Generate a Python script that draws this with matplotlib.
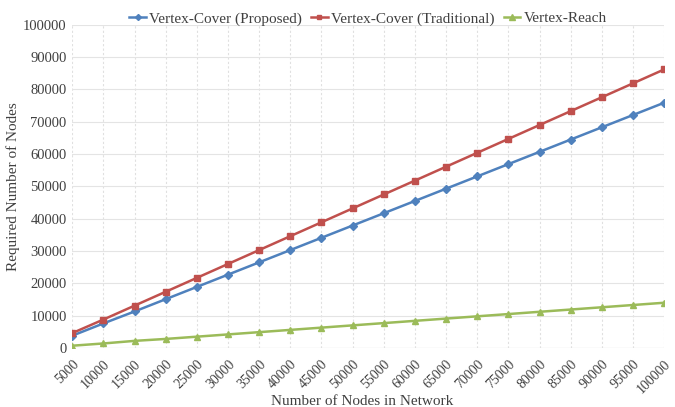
import matplotlib
matplotlib.use("Agg")
import matplotlib.pyplot as plt

plt.rcParams['font.family'] = ['Liberation Serif', 'DejaVu Serif']

nodes = [5000, 10000, 15000, 20000, 25000, 30000, 35000, 40000, 45000, 50000,
         55000, 60000, 65000, 70000, 75000, 80000, 85000, 90000, 95000, 100000]
proposed = [3800, 7600, 11300, 15100, 18900, 22700, 26500, 30300, 34100, 37900,
            41700, 45500, 49300, 53100, 56900, 60700, 64500, 68300, 72100, 75900]
traditional = [4600, 8800, 13100, 17400, 21700, 26000, 30300, 34600, 38900, 43200,
               47500, 51800, 56100, 60400, 64700, 69000, 73300, 77600, 81900, 86200]
reach = [700, 1400, 2200, 2800, 3500, 4200, 4900, 5600, 6300, 7000,
         7700, 8400, 9100, 9800, 10500, 11200, 11900, 12600, 13300, 14000]

txt = '#404040'

fig = plt.figure(figsize=(6.75, 4.07), dpi=100)
ax = fig.add_axes([0.107, 0.145, 0.877, 0.794])

ax.plot(nodes, proposed, color='#4f81bd', marker='D', markersize=3.8, lw=1.8,
        label='Vertex-Cover (Proposed)')
ax.plot(nodes, traditional, color='#c0504d', marker='s', markersize=3.8, lw=1.8,
        label='Vertex-Cover (Traditional)')
ax.plot(nodes, reach, color='#9bbb59', marker='^', markersize=5, lw=1.8,
        label='Vertex-Reach')

ax.set_xlim(5000, 100000)
ax.set_ylim(0, 100000)
ax.set_xticks(nodes)
ax.set_xticklabels([str(n) for n in nodes], rotation=45, ha='right',
                   rotation_mode='anchor', fontsize=10, color=txt)
ax.set_yticks(range(0, 100001, 10000))
ax.set_yticklabels([str(v) for v in range(0, 100001, 10000)], fontsize=10.5, color=txt)
ax.tick_params(axis='x', length=0, pad=7)
ax.tick_params(axis='y', length=0, pad=4)

ax.grid(axis='y', color='#e4e4e4', lw=0.8)
ax.grid(axis='x', color='#e0e0e0', lw=0.8, ls=(0, (2, 2)))
ax.set_axisbelow(True)
for s in ax.spines.values():
    s.set_visible(False)
ax.axhline(0, color='#d0d0d0', lw=0.8, zorder=0.5)

ax.set_xlabel('Number of Nodes in Network', fontsize=11, color=txt)
ax.xaxis.set_label_coords(0.49, -0.145)
ax.set_ylabel('Required Number of Nodes', fontsize=11, color=txt)
ax.yaxis.set_label_coords(-0.088, 0.5)

fig.legend(loc='upper center', bbox_to_anchor=(0.545, 1.005), ncol=3, frameon=False,
           fontsize=11, handlelength=1.1, handletextpad=0.2, columnspacing=0.6,
           labelcolor=txt, markerscale=0.8)

fig.savefig('out.png', dpi=100)
